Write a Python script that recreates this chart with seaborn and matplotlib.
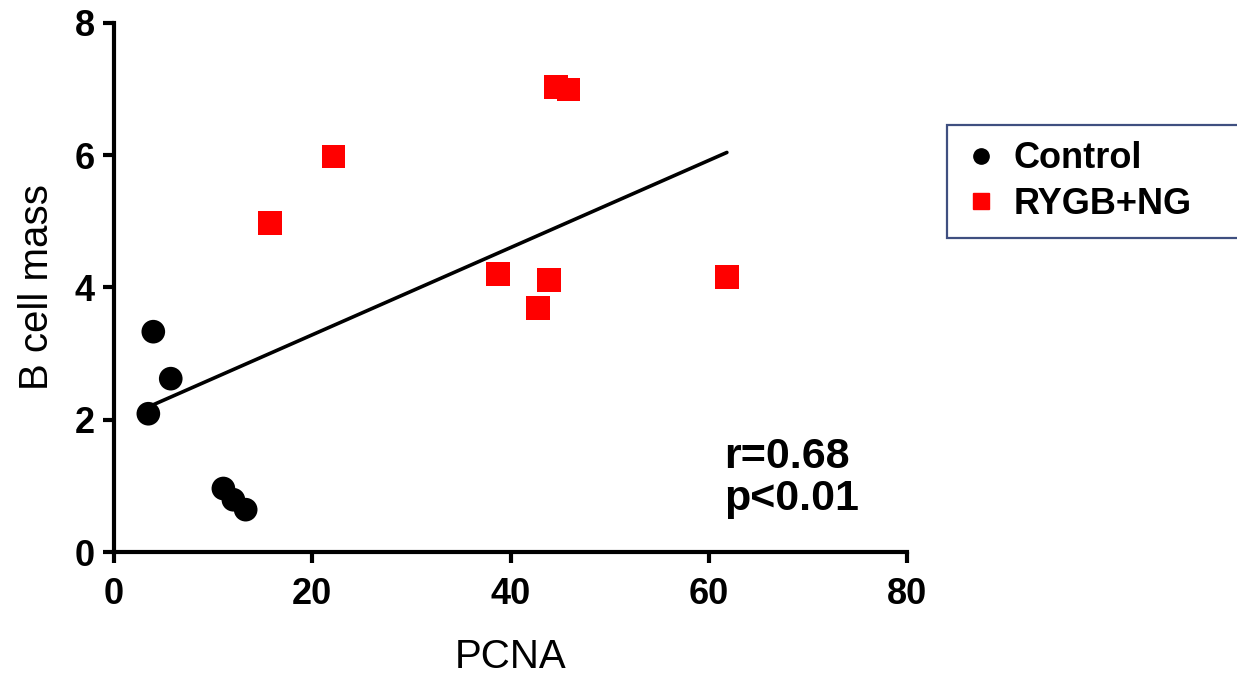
import matplotlib
matplotlib.use("Agg")
import matplotlib.pyplot as plt
from matplotlib.lines import Line2D
import seaborn as sns
import pandas as pd

# Data
groups = ["Control", "RYGB+NG"]
control_pcna = [3.96, 5.72, 3.46, 11.03, 12.04, 13.28]
control_mass = [3.33, 2.62, 2.09, 0.96, 0.79, 0.64]
rygb_pcna = [15.74, 22.13, 38.72, 42.76, 43.86, 44.6, 45.84, 61.83]
rygb_mass = [4.97, 5.98, 4.20, 3.69, 4.11, 7.03, 6.99, 4.16]
x_ticks = [0, 20, 40, 60, 80]
y_ticks = [0, 2, 4, 6, 8]
stats_text = "r=0.68\np<0.01"

colors = {"Control": "black", "RYGB+NG": "#ff0000"}
markers = {"Control": "o", "RYGB+NG": "s"}

df = pd.DataFrame({
    "PCNA": control_pcna + rygb_pcna,
    "B cell mass": control_mass + rygb_mass,
    "Group": ["Control"] * len(control_pcna) + ["RYGB+NG"] * len(rygb_pcna),
})

sns.set_theme(style="ticks")
plt.rcParams["font.family"] = ["Liberation Sans", "DejaVu Sans"]
plt.rcParams["text.color"] = "black"

fig = plt.figure(figsize=(12.37, 6.74), dpi=100)
ax = fig.add_axes([0.0922, 0.181, 0.641, 0.7853])

sns.scatterplot(data=df, x="PCNA", y="B cell mass", hue="Group", style="Group",
                palette=colors, markers=markers, s=290, linewidth=0,
                legend=False, ax=ax, clip_on=False, zorder=3)

# Linear fit across all points
sns.regplot(data=df, x="PCNA", y="B cell mass", scatter=False, ci=None,
            color="black", line_kws={"lw": 2.6, "zorder": 2}, ax=ax)

ax.set_xlim(0, 80)
ax.set_ylim(0, 8)
ax.set_xticks(x_ticks)
ax.set_yticks(y_ticks)
sns.despine(ax=ax)
for side in ["left", "bottom"]:
    ax.spines[side].set_linewidth(3)
    ax.spines[side].set_color("black")
ax.tick_params(axis="both", width=3, length=8, color="black")
ax.tick_params(axis="x", pad=10)
ax.tick_params(axis="y", pad=6)
for lab in ax.get_xticklabels() + ax.get_yticklabels():
    lab.set_fontweight("bold")
    lab.set_fontsize(26)
    lab.set_color("black")

ax.set_xlabel("PCNA", fontsize=29, color="black", labelpad=19)
ax.set_ylabel("B cell mass", fontsize=29, color="black", labelpad=13)

ax.text(0.77, 0.14, stats_text, transform=ax.transAxes, fontsize=31,
        fontweight="bold", color="black", ha="left", va="center", linespacing=1.05)

handles = [
    Line2D([], [], marker=markers[g], color=colors[g], linestyle="none", markersize=11)
    for g in groups
]
leg = fig.legend(handles, groups, loc="upper left",
                 bbox_to_anchor=(947 / 1237, 1 - 125 / 674, 0.26, 0.0),
                 mode="expand", borderaxespad=0, frameon=True, fancybox=False,
                 prop={"size": 26, "weight": "bold"}, handlelength=1.0,
                 handletextpad=0.4, borderpad=0.45, labelspacing=0.3)
leg.get_frame().set_edgecolor("#0f2360")
leg.get_frame().set_linewidth(1.6)
for t in leg.get_texts():
    t.set_color("black")

fig.savefig("out.png", dpi=100)
plt.close(fig)
